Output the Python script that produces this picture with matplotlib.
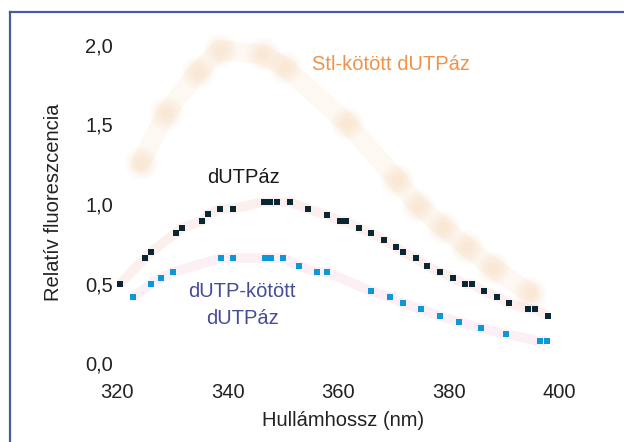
import matplotlib
matplotlib.use("Agg")
import matplotlib.pyplot as plt
from matplotlib.lines import Line2D

plt.rcParams['font.family'] = ['Liberation Sans', 'DejaVu Sans']

# wavelengths (nm) and relative fluorescence
stl_x = [324.3, 328.8, 334.6, 338.6, 346.4, 350.3, 361.6, 370.7, 374.5, 379.0, 383.3, 388.0, 394.7]
stl_y = [1.26, 1.57, 1.83, 1.97, 1.94, 1.86, 1.51, 1.15, 0.99, 0.855, 0.73, 0.60, 0.44]

dutpaz_x = [320.5, 325.0, 326.1, 330.6, 331.7, 335.3, 336.4, 338.6, 340.9, 346.6, 347.7,
            348.9, 351.3, 354.5, 357.9, 360.3, 361.4, 363.8, 365.9, 368.3, 370.5, 371.7,
            374.1, 376.1, 378.4, 380.8, 383.0, 384.2, 386.4, 388.8, 390.9, 394.4, 395.6, 398.0]
dutpaz_y = [0.497, 0.660, 0.698, 0.818, 0.849, 0.893, 0.937, 0.969, 0.969, 1.013, 1.013,
            1.013, 1.013, 0.969, 0.931, 0.893, 0.893, 0.849, 0.818, 0.774, 0.730, 0.698,
            0.660, 0.610, 0.572, 0.535, 0.497, 0.497, 0.453, 0.415, 0.377, 0.340, 0.340, 0.296]

dutp_kot_x = [322.8, 326.1, 327.9, 330.1, 338.8, 340.9, 346.7, 347.8, 350.0, 352.9, 356.1,
              357.9, 365.9, 369.4, 371.7, 375.0, 378.4, 381.9, 385.8, 390.4, 396.5, 397.8]
dutp_kot_y = [0.415, 0.497, 0.535, 0.572, 0.660, 0.660, 0.660, 0.660, 0.660, 0.610, 0.572,
              0.572, 0.453, 0.415, 0.377, 0.340, 0.296, 0.258, 0.220, 0.182, 0.138, 0.138]

xticks = [320, 340, 360, 380, 400]
xtick_labels = ['320', '340', '360', '380', '400']
yticks = [0.0, 0.5, 1.0, 1.5, 2.0]
ytick_labels = ['0,0', '0,5', '1,0', '1,5', '2,0']

fig = plt.figure(figsize=(6.24, 4.42), dpi=100)
ax = fig.add_axes([116 / 624, 71 / 442, 454 / 624, 342 / 442])
ax.set_xlim(319.75, 402)
ax.set_ylim(-0.05, 2.1)

# blurry orange curve: faint band plus soft blobs
ax.plot(stl_x, stl_y, color='#fdeee0', lw=14, alpha=0.4, solid_capstyle='round', zorder=1)
for s in [24, 20, 16, 12, 8]:
    ax.scatter(stl_x, stl_y, s=s ** 2, marker='o', color='#f9c18e', alpha=0.06,
               linewidths=0, clip_on=False, zorder=1)

# faint pink halos under the two lower series
ax.plot(dutpaz_x, dutpaz_y, color='#f2c6bb', lw=7, alpha=0.25, solid_capstyle='butt')
ax.plot(dutp_kot_x, dutp_kot_y, color='#f4c3d8', lw=7, alpha=0.25, solid_capstyle='butt')

ax.plot(dutpaz_x, dutpaz_y, 's', color='#0b2633', ms=4.3, mew=0, clip_on=False)
ax.plot(dutp_kot_x, dutp_kot_y, 's', color='#0a98d8', ms=4.3, mew=0, clip_on=False)

ax.text(355.2, 1.874, 'Stl-kötött dUTPáz', color='#f0924a', fontsize=14.5,
        ha='left', va='center')
ax.text(342.9, 1.164, 'dUTPáz', color='#1a1a1a', fontsize=14.5, ha='center', va='center',
        bbox=dict(boxstyle='square,pad=0.55', fc='white', ec='none'))
ax.text(342.6, 0.365, 'dUTP-kötött\ndUTPáz', color='#464c96', fontsize=14.5,
        ha='center', va='center', linespacing=1.5)

ax.set_xticks(xticks)
ax.set_xticklabels(xtick_labels)
ax.set_yticks(yticks)
ax.set_yticklabels(ytick_labels)
ax.tick_params(length=0, labelsize=14.5, colors='#222222')
ax.tick_params(axis='x', pad=9)
ax.tick_params(axis='y', pad=2)
for sp in ax.spines.values():
    sp.set_visible(False)

ax.set_xlabel('Hullámhossz (nm)', fontsize=14.5, color='#222222')
ax.set_ylabel('Relatív fluoreszcencia', fontsize=14.5, color='#222222')
ax.xaxis.label.set_va('center')
ax.yaxis.label.set_va('center')
ax.xaxis.set_label_coords(0.5, (371 - 420) / 342)
ax.yaxis.set_label_coords((54 - 116) / 454, 0.494)

# frame border (top and left edges)
frame_c = '#4a5aa0'
fig.add_artist(Line2D([10 / 624, 1.0], [1 - 12 / 442, 1 - 12 / 442], color=frame_c, lw=1.6))
fig.add_artist(Line2D([10 / 624, 10 / 624], [0.0, 1 - 12 / 442], color=frame_c, lw=1.6))

fig.savefig('out.png', dpi=100)
